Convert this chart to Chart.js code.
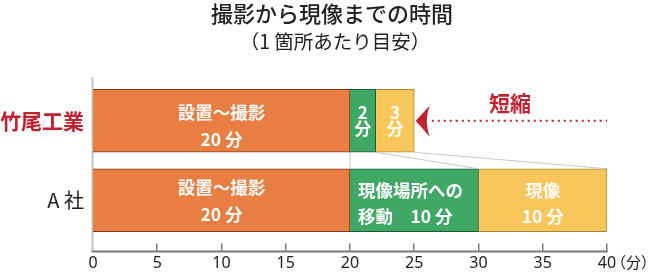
<!DOCTYPE html>
<html lang="ja">
<head>
<meta charset="utf-8">
<title>撮影から現像までの時間</title>
<script src="https://cdn.jsdelivr.net/npm/chart.js@4"></script>
<style>
  html, body { margin: 0; padding: 0; background: #fff; }
  #wrap { width: 655px; height: 277px; position: relative; }
</style>
</head>
<body>
<div id="wrap"><canvas id="chart"></canvas></div>
<script>
// データ（分）
const categories = ['竹尾工業', 'A 社'];
const setupMinutes = [20, 20];     // 設置〜撮影
const moveMinutes = [2, 10];       // 現像場所への移動
const developMinutes = [3, 10];    // 現像
const axisMin = 0;
const axisMax = 40;
const axisStep = 5;

// 各バー内のラベル（行ごと）
const setupLabels = [['設置〜撮影', '20 分'], ['設置〜撮影', '20 分']];
const moveLabels = [['2', '分'], ['現像場所への', '移動　10 分']];
const developLabels = [['3', '分'], ['現像', '10 分']];
const segmentLabels = [setupLabels, moveLabels, developLabels];

const titleText = '撮影から現像までの時間';
const subtitleText = '（1 箇所あたり目安）';

const FONT = "'Noto Sans CJK JP', 'Noto Sans', sans-serif";
const RED = '#C4202E';

// タイトル・軸線・目盛り・拡大線・矢印・バー内ラベル
const DecorPlugin = {
  id: 'decor',
  beforeDatasetsDraw(chart) {
    const { ctx, chartArea, scales } = chart;
    const x0 = scales.x.getPixelForValue(axisMin);
    ctx.save();
    // タイトル（キャンバス全幅の中央）
    ctx.fillStyle = '#222';
    ctx.textAlign = 'center';
    ctx.textBaseline = 'middle';
    ctx.font = '500 22px ' + FONT;
    ctx.fillText(titleText, 332, 14);
    ctx.font = '19.5px ' + FONT;
    ctx.fillText(subtitleText, 335, 42);

    ctx.strokeStyle = '#C2C2C2';
    ctx.lineWidth = 2;
    ctx.beginPath();
    ctx.moveTo(x0 - 0.5, chartArea.top - 4);
    ctx.lineTo(x0 - 0.5, chartArea.bottom + 12);
    ctx.stroke();
    ctx.restore();
  },
  afterDatasetsDraw(chart) {
    const { ctx, chartArea, scales } = chart;
    const xs = scales.x;
    const baseY = chartArea.bottom + 11.5;
    ctx.save();

    // x 軸の線と目盛り
    ctx.strokeStyle = '#7A7A7A';
    ctx.lineWidth = 2;
    ctx.beginPath();
    ctx.moveTo(xs.getPixelForValue(axisMin) - 1.5, baseY);
    ctx.lineTo(xs.getPixelForValue(axisMax) + 0.5, baseY);
    ctx.stroke();
    ctx.lineWidth = 1.5;
    for (let v = axisMin + axisStep; v <= axisMax; v += axisStep) {
      const px = Math.round(xs.getPixelForValue(v)) - 0.25;
      ctx.beginPath();
      ctx.moveTo(px, baseY - 8);
      ctx.lineTo(px, baseY);
      ctx.stroke();
    }
    ctx.fillStyle = '#222';
    ctx.font = '15px ' + FONT;
    ctx.textAlign = 'left';
    ctx.textBaseline = 'middle';
    ctx.fillText('（分）', xs.getPixelForValue(axisMax) + 4, chartArea.bottom + 22);

    // 竹尾工業の 移動・現像 → A 社の 移動・現像 への拡大線
    const m0 = chart.getDatasetMeta(0).data;
    const m1 = chart.getDatasetMeta(1).data;
    const m2 = chart.getDatasetMeta(2).data;
    const yBot = m0[0].y + m0[0].height / 2;
    const yTop = m0[1].y - m0[1].height / 2;
    ctx.strokeStyle = '#C8C8C8';
    ctx.lineWidth = 1;
    [[m0[0].x, m0[1].x], [m1[0].x, m1[1].x], [m2[0].x, m2[1].x]].forEach(([a, b]) => {
      ctx.beginPath();
      ctx.moveTo(a, yBot);
      ctx.lineTo(b, yTop);
      ctx.stroke();
    });

    // 短縮 の矢印
    const tipX = m2[0].x + 1.5;
    const cy = m2[0].y;
    ctx.fillStyle = RED;
    ctx.beginPath();
    ctx.moveTo(tipX, cy);
    ctx.lineTo(tipX + 14, cy - 15);
    ctx.quadraticCurveTo(tipX + 8, cy, tipX + 14, cy + 16);
    ctx.closePath();
    ctx.fill();
    ctx.strokeStyle = RED;
    ctx.lineWidth = 2;
    ctx.setLineDash([2, 4]);
    ctx.beginPath();
    ctx.moveTo(tipX + 16, cy);
    ctx.lineTo(xs.getPixelForValue(axisMax), cy);
    ctx.stroke();
    ctx.setLineDash([]);
    ctx.font = 'bold 21px ' + FONT;
    ctx.textAlign = 'center';
    ctx.fillText('短縮', 510, cy - 18);

    // バー内ラベル（白）
    ctx.fillStyle = '#fff';
    segmentLabels.forEach((rows, ds) => {
      const meta = chart.getDatasetMeta(ds).data;
      rows.forEach((lines, i) => {
        const bar = meta[i];
        const small = lines[0].length === 1;
        const gap = small ? 15.5 : 26.5;
        let shift = 0;
        if (!small) shift = (i === 0) ? 5 : (ds === 0 ? 0.5 : 3);
        ctx.font = (small ? 'bold 17px ' : 'bold 17.5px ') + FONT;
        const leftAlign = (ds === 1 && !small);
        ctx.textAlign = leftAlign ? 'left' : 'center';
        const tx = leftAlign ? bar.base + 8 : (bar.base + bar.x) / 2;
        lines.forEach((txt, k) => {
          const ty = bar.y - gap / 2 + shift + k * gap;
          ctx.fillText(txt, tx, ty);
        });
      });
    });
    ctx.restore();
  }
};

new Chart(document.getElementById('chart'), {
  type: 'bar',
  data: {
    labels: categories,
    datasets: [
      {
        label: '設置〜撮影',
        data: setupMinutes,
        backgroundColor: '#E97E42',
        borderColor: '#7A3A16',
        borderWidth: 1
      },
      {
        label: '現像場所への移動',
        data: moveMinutes,
        backgroundColor: '#3FA864',
        borderColor: '#1E5A33',
        borderWidth: 1
      },
      {
        label: '現像',
        data: developMinutes,
        backgroundColor: '#F8C65A',
        borderColor: '#A8862F',
        borderWidth: 1
      }
    ]
  },
  options: {
    indexAxis: 'y',
    responsive: true,
    maintainAspectRatio: false,
    animation: false,
    barThickness: 63,
    layout: { padding: { left: 0, right: 48, top: 81, bottom: 0 } },
    plugins: {
      legend: { display: false },
      tooltip: { enabled: false }
    },
    scales: {
      x: {
        stacked: true,
        min: axisMin,
        max: axisMax,
        grid: { display: false, drawTicks: false },
        border: { display: false },
        ticks: {
          stepSize: axisStep,
          color: '#222',
          padding: 14,
          font: { family: "'Noto Sans', sans-serif", size: 16 }
        },
        afterFit: s => { s.height = 37; }
      },
      y: {
        stacked: true,
        grid: { display: false, drawTicks: false },
        border: { display: false },
        ticks: {
          padding: 9,
          color: c => c.index === 0 ? RED : '#222',
          font: c => c.index === 0
            ? { family: FONT, size: 21, weight: 'bold' }
            : { family: FONT, size: 20, weight: 'normal' }
        },
        afterFit: s => { s.width = 93; }
      }
    }
  },
  plugins: [DecorPlugin]
});
</script>
</body>
</html>
